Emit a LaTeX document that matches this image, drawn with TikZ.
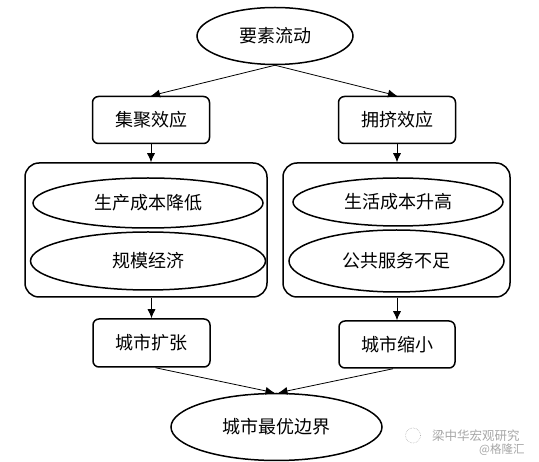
\documentclass[tikz,border=0pt]{standalone}
\usepackage{fontspec}
\setmainfont{Noto Sans CJK SC}
\usetikzlibrary{shapes.geometric,arrows.meta}
\begin{document}
\begin{tikzpicture}[x=1pt,y=-1pt,
  txt/.style={font=\fontsize{18}{20}\selectfont},
  oval/.style={draw,ellipse,line width=1.5pt,inner sep=0pt,txt},
  rbox/.style={draw,rounded corners=6pt,line width=1.5pt,inner sep=0pt,txt},
  frame/.style={draw,rounded corners=14pt,line width=1.5pt,inner sep=0pt},
  arr/.style={-{Latex[length=9pt,width=8pt]},line width=0.8pt},
  wm/.style={text=black!35,inner sep=0pt}]
\useasboundingbox (0,0) rectangle (539,462);
\node[oval,minimum width=156,minimum height=57] (top) at (275,36) {要素流动};
\node[rbox,minimum width=117,minimum height=47] (jj) at (151,120) {集聚效应};
\node[rbox,minimum width=117,minimum height=47] (yj) at (397,120) {拥挤效应};
\node[frame,minimum width=242,minimum height=134] (L) at (146,230) {};
\node[frame,minimum width=227,minimum height=134] (R) at (396.5,230) {};
\node[oval,minimum width=230,minimum height=50] (L1) at (148,203) {生产成本降低};
\node[oval,minimum width=235,minimum height=58] (L2) at (148,261) {规模经济};
\node[oval,minimum width=210,minimum height=48] (R1) at (398,202) {生活成本升高};
\node[oval,minimum width=215,minimum height=62] (R2) at (396.5,261) {公共服务不足};
\node[rbox,minimum width=117,minimum height=48] (ck) at (151.5,343) {城市扩张};
\node[rbox,minimum width=116,minimum height=47] (cs) at (397,344.5) {城市缩小};
\node[oval,minimum width=211,minimum height=67] (bot) at (276.5,427) {城市最优边界};
\draw[arr] (top.south) -- (jj.north);
\draw[arr] (top.south) -- (yj.north);
\draw[arr] (jj.south) -- (jj.south |- L.north);
\draw[arr] (yj.south) -- (yj.south |- R.north);
\draw[arr] (ck.north |- L.south) -- (ck.north);
\draw[arr] (cs.north |- R.south) -- (cs.north);
\draw[arr] ([xshift=4pt]ck.south) -- ([xshift=-2pt]bot.north);
\draw[arr] ([xshift=-4pt]cs.south) -- ([xshift=2pt]bot.north);
\node[wm,font=\fontsize{12.5}{14}\selectfont,anchor=west] (w1) at (432,436) {梁中华宏观研究};
\node[wm,font=\fontsize{11.5}{13}\selectfont,anchor=west] (w2) at (479,450) {@格隆汇};
\draw[black!30,densely dotted,line width=0.6pt] (413,435.5) circle (7.5pt);
\end{tikzpicture}
\end{document}
